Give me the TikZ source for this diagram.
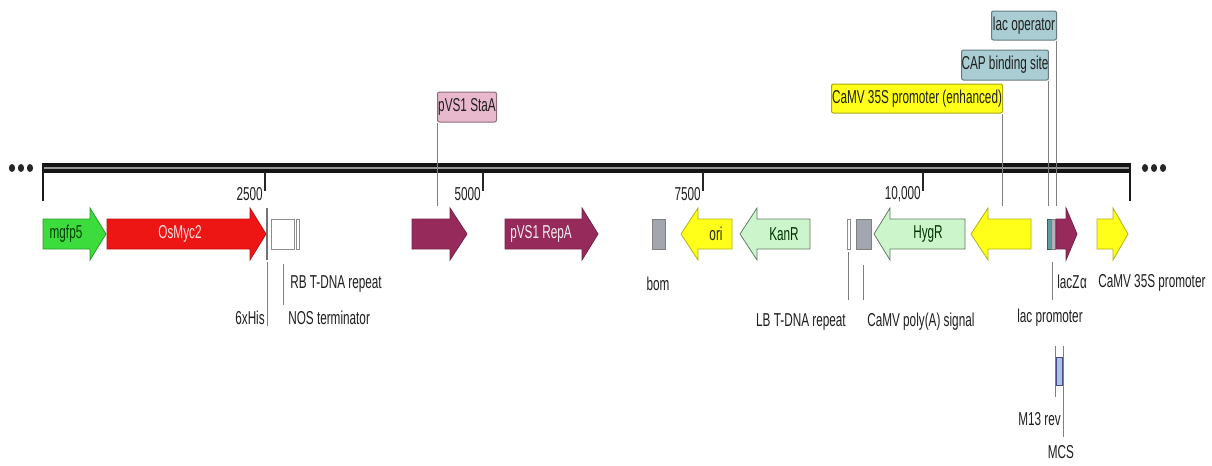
\documentclass[tikz,border=0pt]{standalone}
\usepackage{fontspec}
\setmainfont{Liberation Sans}[FakeStretch=0.63]
\definecolor{gfp}{HTML}{3CDC3C}
\definecolor{myc}{HTML}{EE1515}
\definecolor{pvs}{HTML}{962A5B}
\definecolor{ylw}{HTML}{FFFF1A}
\definecolor{pgreen}{HTML}{CCF5CC}
\definecolor{gbox}{HTML}{A2A6AE}
\definecolor{tagteal}{HTML}{A9CDD2}
\definecolor{pinktag}{HTML}{E8B8CC}
\definecolor{mcsblue}{HTML}{A8C2EE}
\definecolor{lacteal}{HTML}{5F9EA0}
\newcommand\FeatR[5]{% name, x1, headbase, tip, style
  \draw[#5] (#2,219) -- (#3,219) -- (#3,208) -- (#4,234) -- (#3,260) -- (#3,249) -- (#2,249) -- cycle;
  \coordinate (#1) at ({(#2+#3)/2},234);}
\newcommand\FeatL[5]{% name, tip, headbase, x2, style
  \draw[#5] (#4,219) -- (#3,219) -- (#3,208) -- (#2,234) -- (#3,260) -- (#3,249) -- (#4,249) -- cycle;
  \coordinate (#1) at ({(#3+#4)/2},234);}
\begin{document}
\begin{tikzpicture}[x=0.75pt,y=-0.75pt,
  txt/.style={font=\fontsize{14}{16}\selectfont, inner sep=0pt},
  lbl/.style={txt, text=black!88},
  leader/.style={draw=black!50, line width=0.75pt},
  tagbox/.style={lbl, rounded corners=1.5pt, line width=0.75pt, inner sep=0pt},
  boxfeat/.style={line width=0.75pt},
]
\useasboundingbox[fill=white] (0,0) rectangle (1212,465);

% backbone
\fill[black!92] (43,163) rectangle (1130,173);
\draw[black!40, line width=1.2pt] (43,168) -- (1130,168);
\coordinate (bbL) at (43,163);
\coordinate (bbR) at (1130,163);
\draw[black!90, line width=1.5pt] (bbL) -- (43,201);
\draw[black!90, line width=1.5pt] (bbR) -- (1130,201);
% ellipsis dots
\foreach \xx in {12,21,30,1145,1154,1163}
  \fill[black!85] (\xx,168) ellipse [x radius=2.3pt, y radius=3pt];

% scale ticks
\foreach \xx/\tt in {265/2500,483/5000,703/7500,923/{10,000}}{
  \draw[black!85, line width=0.9pt] (\xx,172) -- (\xx,191);
  \node[lbl, anchor=east] at (\xx-2,194) {\tt};
}

% features
\FeatR{fmgfp}{43}{90}{106}{fill=gfp, draw=gfp!70!black, line width=0.6pt}
\node[txt, text=green!25!black] (mgfp) at (66,234) {mgfp5};
\FeatR{fmyc}{107}{250}{266}{fill=myc, draw=myc!80!black, line width=0.6pt}
\node[txt, text=red!12!white] (myc) at (180,234) {OsMyc2};
\coordinate (his) at (267,208);
\draw[black!55, line width=0.8pt] (his) -- (267,260);
\draw[boxfeat, fill=white, draw=black!45] (271,219) rectangle (294,249);
\coordinate (nos) at (283,249);
\draw[boxfeat, fill=white, draw=black!45] (296,219) rectangle (299,249);
\coordinate (rb) at (297,249);
\FeatR{fstaa}{412}{450}{467}{fill=pvs, draw=pvs!80!black, line width=0.6pt}
\FeatR{frepa}{505}{582}{598}{fill=pvs, draw=pvs!80!black, line width=0.6pt}
\node[txt, text=white!92!pvs] (repa) at (541,234) {pVS1 RepA};
\draw[boxfeat, fill=gbox, draw=black!50] (652,219) rectangle (665,249);
\coordinate (bomF) at (658,249);
\FeatL{fori}{681}{698}{732}{fill=ylw, draw=ylw!70!black, line width=0.6pt}
\node[txt, text=black!85] (ori) at (716,234) {ori};
\FeatL{fkan}{740}{757}{810}{fill=pgreen, draw=pgreen!50!black, line width=0.6pt}
\node[txt, text=green!20!black] (kan) at (784,234) {KanR};
\draw[boxfeat, fill=white, draw=black!45] (847,219) rectangle (850,249);
\coordinate (lbF) at (848.5,252);
\draw[boxfeat, fill=gbox, draw=black!50] (856,219) rectangle (871,249);
\coordinate (polyF) at (863,249);
\FeatL{fhyg}{874}{890}{965}{fill=pgreen, draw=pgreen!50!black, line width=0.6pt}
\node[txt, text=green!20!black] (hyg) at (928,234) {HygR};
\FeatL{fenh}{971}{988}{1031}{fill=ylw, draw=ylw!70!black, line width=0.6pt}
\draw[line width=0.5pt, fill=lacteal, draw=lacteal!60!black] (1047,219) rectangle (1051,249);
\draw[line width=0.5pt, fill=black!30, draw=black!50] (1051,219) rectangle (1055,249);
\coordinate (lacpF) at (1052,249);
\FeatR{flacz}{1056}{1066}{1077}{fill=pvs, draw=pvs!80!black, line width=0.6pt}
\FeatR{f35s}{1097}{1113}{1128}{fill=ylw, draw=ylw!70!black, line width=0.6pt}

% top tags
\coordinate (ftop) at (0,206);
\node[tagbox, fill=tagteal, draw=tagteal!60!black, minimum width={65*0.75pt}, minimum height={29*0.75pt}] (lacop) at (1024,25.5) {lac operator};
\node[tagbox, fill=tagteal, draw=tagteal!60!black, minimum width={85*0.75pt}, minimum height={30*0.75pt}] (cap) at (1005,65) {CAP binding site};
\node[tagbox, fill=ylw, draw=ylw!65!black, minimum width={171*0.75pt}, minimum height={29*0.75pt}] (enh) at (917,98.5) {CaMV 35S promoter (enhanced)};
\node[tagbox, fill=pinktag, draw=pinktag!60!black, minimum width={59*0.75pt}, minimum height={30*0.75pt}] (staa) at (467,107) {pVS1 StaA};
\draw[leader] ([xshift=-0.6pt]lacop.south east) -- ([xshift=-0.6pt]lacop.south east |- ftop);
\draw[leader] ([xshift=-0.6pt]cap.south east) -- ([xshift=-0.6pt]cap.south east |- ftop);
\draw[leader] ([xshift=-0.6pt]enh.south east) -- ([xshift=-0.6pt]enh.south east |- ftop);
\draw[leader] ([xshift=0.6pt]staa.south west) -- ([xshift=0.6pt]staa.south west |- ftop);

% lower labels, first row
\node[lbl, anchor=west] (rbL) at (290,284) {RB T-DNA repeat};
\node[lbl] (bomL) at (658,284) {bom};
\node[lbl, anchor=west] (laczL) at (1057,282) {lacZ\kern0.5pt α};
\node[lbl, anchor=west] (s35L) at (1098,283) {CaMV 35S promoter};
% second row
\node[lbl, anchor=east] (hisL) at (265,318) {6xHis};
\node[lbl, anchor=west] (nosL) at (288,318) {NOS terminator};
\node[lbl, anchor=east] (lbL) at (846,322) {LB T-DNA repeat};
\node[lbl, anchor=west] (polyL) at (867,322) {CaMV poly(A) signal};
\node[lbl] (lacpL) at (1050,318) {lac promoter};

\draw[leader] (his |- 0,262) -- (his |- 0,326);
\draw[leader] (nos |- 0,264) -- (nos |- 0,305);
\draw[leader] (lbF) -- (lbF |- 0,300);
\draw[leader] (polyF |- 0,265) -- (polyF |- 0,300);
\draw[leader] (lacpF |- 0,262) -- (lacpF |- 0,300);

% MCS track
\coordinate (mcsT) at (1055,346);
\draw[leader] (mcsT) -- (1055,397);
\draw[leader] (1063,346) -- (1063,437);
\draw[line width=0.75pt, fill=mcsblue, draw=blue!30!black!70] (1056,357) rectangle (1062,385);
\node[lbl, anchor=east] (m13) at (1061,419) {M13 rev};
\node[lbl] (mcs) at (1061,452) {MCS};
\end{tikzpicture}
\end{document}
